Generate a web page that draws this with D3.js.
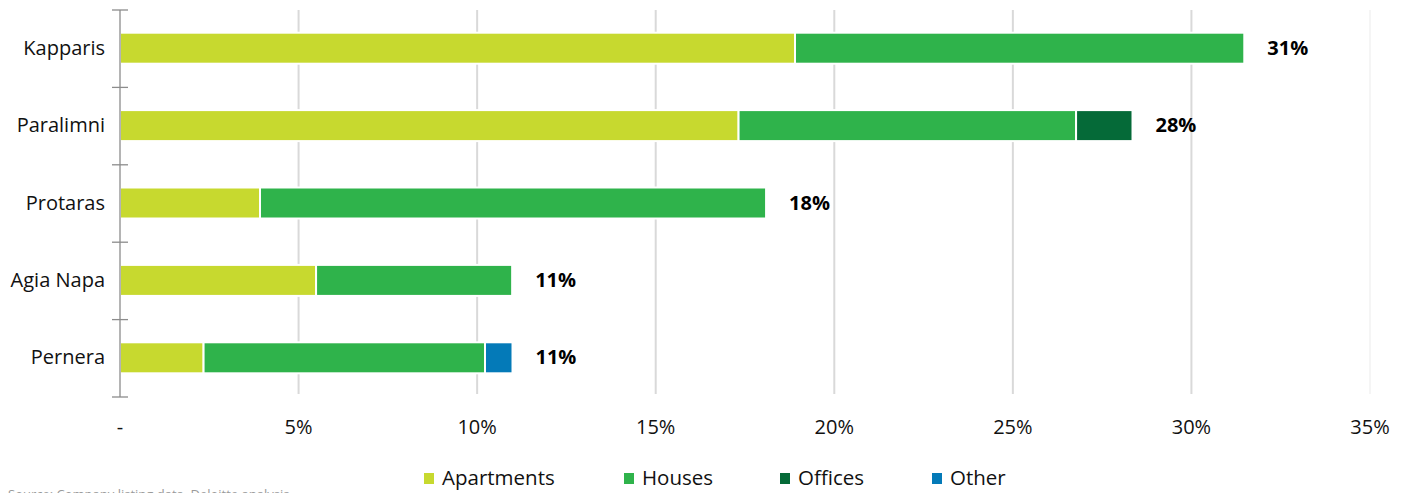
<!DOCTYPE html>
<html>
<head>
<meta charset="utf-8">
<script src="https://cdn.jsdelivr.net/npm/d3@7"></script>
<style>
  html, body { margin: 0; padding: 0; background: #fff; }
  svg { display: block; font-family: "Open Sans", sans-serif; }
</style>
</head>
<body>
<svg id="chart" width="1410" height="493"></svg>
<script>
// Share of listings by area and property type (percent)
const areas = ["Kapparis", "Paralimni", "Protaras", "Agia Napa", "Pernera"];
const seriesNames = ["Apartments", "Houses", "Offices", "Other"];
const apartments = [18.9, 17.32, 3.92, 5.49, 2.34];
const houses     = [12.58, 9.45, 14.17, 5.49, 7.88];
const offices    = [0, 1.58, 0, 0, 0];
const other      = [0, 0, 0, 0, 0.77];
const seriesColors = ["#c7d92f", "#2fb34b", "#056a38", "#047ab8"];
const xTicks = [0, 5, 10, 15, 20, 25, 30, 35];

const rows = areas.map((a, i) => ({
  area: a,
  Apartments: apartments[i],
  Houses: houses[i],
  Offices: offices[i],
  Other: other[i]
}));

const svg = d3.select("#chart");
const plotLeft = 120, plotRight = 1370, plotTop = 10, plotBottom = 397;

const x = d3.scaleLinear().domain([0, 35]).range([plotLeft, plotRight]);
const y = d3.scaleBand().domain(areas).range([plotTop, plotBottom]).padding(0);
const color = d3.scaleOrdinal().domain(seriesNames).range(seriesColors);

// vertical gridlines
svg.append("g").selectAll("line")
  .data(xTicks.filter(d => d > 0))
  .join("line")
  .attr("x1", d => x(d)).attr("x2", d => x(d))
  .attr("y1", plotTop).attr("y2", plotBottom - 3)
  .attr("stroke", d => d === 35 ? "#f5f5f5" : "#d9d9d9")
  .attr("stroke-width", 2);

// stacked bars
const stacked = d3.stack().keys(seriesNames)(rows);
const barH = 31;
svg.append("g").selectAll("g")
  .data(stacked)
  .join("g")
  .attr("fill", d => color(d.key))
  .selectAll("rect")
  .data(d => d.filter(s => s[1] - s[0] > 0))
  .join("rect")
  .attr("x", d => x(d[0]))
  .attr("width", d => x(d[1]) - x(d[0]))
  .attr("y", d => y(d.data.area) + y.bandwidth() / 2 - barH / 2 - 0.5)
  .attr("height", barH)
  .attr("stroke", "#fff")
  .attr("stroke-width", 2);

// total labels
const totals = rows.map(r => seriesNames.reduce((s, k) => s + r[k], 0));
svg.append("g").selectAll("text")
  .data(rows)
  .join("text")
  .attr("x", (d, i) => x(totals[i]) + 23)
  .attr("y", d => y(d.area) + y.bandwidth() / 2 + 6)
  .attr("font-size", 20)
  .attr("font-weight", "bold")
  .attr("fill", "#000")
  .text((d, i) => Math.round(totals[i]) + "%");

// category axis
const yAxis = svg.append("g").attr("transform", `translate(${plotLeft},0)`);
yAxis.append("line")
  .attr("x1", 0).attr("x2", 0).attr("y1", plotTop).attr("y2", plotBottom)
  .attr("stroke", "#8c8c8c").attr("stroke-width", 1.3);
const bounds = d3.range(areas.length + 1).map(i => plotTop + i * y.step());
yAxis.selectAll(".tk").data(bounds).join("line")
  .attr("class", "tk")
  .attr("x1", -8).attr("x2", 8)
  .attr("y1", d => d).attr("y2", d => d)
  .attr("stroke", "#8c8c8c").attr("stroke-width", 1.3);
yAxis.selectAll("text").data(areas).join("text")
  .attr("x", -15)
  .attr("y", d => y(d) + y.bandwidth() / 2 + 6)
  .attr("text-anchor", "end")
  .attr("font-size", 20)
  .attr("fill", "#111")
  .text(d => d);

// value axis labels
svg.append("g").selectAll("text")
  .data(xTicks)
  .join("text")
  .attr("x", d => x(d))
  .attr("y", 434)
  .attr("text-anchor", "middle")
  .attr("font-size", 20)
  .attr("fill", "#111")
  .text(d => d === 0 ? "-" : d + "%");

// legend
const legendX = [424, 624, 780, 932];
const legend = svg.append("g").selectAll("g")
  .data(seriesNames)
  .join("g")
  .attr("transform", (d, i) => `translate(${legendX[i]},0)`);
legend.append("rect")
  .attr("x", 0).attr("y", 473)
  .attr("width", 10).attr("height", 11)
  .attr("fill", d => color(d));
legend.append("text")
  .attr("x", 18).attr("y", 485)
  .attr("font-size", 20.5)
  .attr("fill", "#111")
  .text(d => d);

// source note, sitting at the bottom edge
svg.append("text")
  .attr("x", 8).attr("y", 499)
  .attr("font-size", 13)
  .attr("fill", "#9a9a9a")
  .text("Source: Company listing data, Deloitte analysis");
</script>
</body>
</html>
